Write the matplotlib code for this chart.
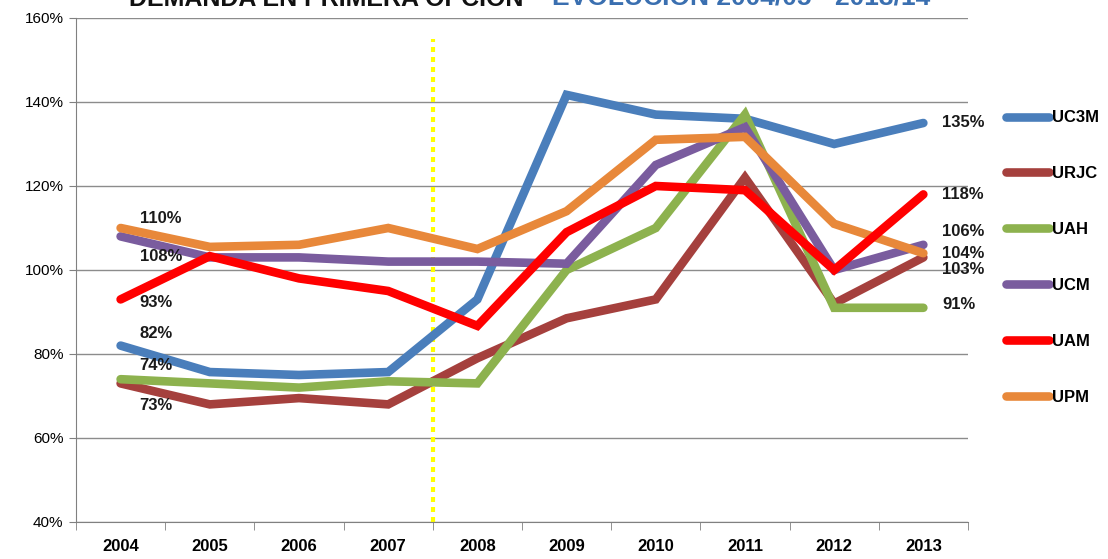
import matplotlib
matplotlib.use("Agg")
import matplotlib.pyplot as plt
from matplotlib.ticker import FixedLocator

# Data (percent)
years = ["2004", "2005", "2006", "2007", "2008", "2009", "2010", "2011", "2012", "2013"]
series_names = ["UC3M", "URJC", "UAH", "UCM", "UPM", "UAM"]
uc3m = [82, 75.7, 75, 75.7, 93, 141.7, 137, 136, 130, 135]
urjc = [73, 68, 69.5, 68, 79, 88.5, 93, 122, 92, 103]
uah = [74, 73, 72, 73.5, 73, 100, 110, 137, 91, 91]
ucm = [108, 103, 103, 102, 102, 101.5, 125, 134, 100, 106]
upm = [110, 105.5, 106, 110, 105, 114, 131, 131.7, 111, 104]
uam = [93, 103.3, 98, 95, 86.7, 109, 120, 119, 100, 118]
legend_order = ["UC3M", "URJC", "UAH", "UCM", "UAM", "UPM"]

colors = {"UC3M": "#4A7EBB", "URJC": "#A5403D", "UAH": "#8DB24E",
          "UCM": "#7A5C9E", "UAM": "#FF0000", "UPM": "#E8883A"}
values = {"UC3M": uc3m, "URJC": urjc, "UAH": uah, "UCM": ucm, "UPM": upm, "UAM": uam}

# labels at first and last point: (series, dy) in pixels
left_labels = [("UPM", 9), ("UCM", -20), ("UAM", -3), ("UC3M", 12), ("UAH", 14), ("URJC", -22)]
right_labels = [("UC3M", 0), ("UAM", 0), ("UCM", 13), ("UPM", 0), ("URJC", -12), ("UAH", 3)]

font = ["Liberation Sans", "DejaVu Sans"]
plt.rcParams["font.family"] = font

fig = plt.figure(figsize=(11.08, 5.59), dpi=100)
ax = fig.add_axes([0.0686, 0.0662, 0.805, 0.9016])

x = list(range(len(years)))
lines = {}
for name in series_names:
    ln, = ax.plot(x, values[name], color=colors[name], lw=6.2,
                  solid_joinstyle="miter", solid_capstyle="round", label=name, zorder=3)
    lines[name] = ln

# yellow dotted separator between 2007 and 2008
ax.plot([3.5, 3.5], [40, 155], color="#FFFF00", lw=3, ls=(0, (1.2, 1.2)), zorder=2)

for name, dy in left_labels:
    v = values[name][0]
    ax.annotate("%d%%" % round(v), (0, v), xytext=(19, dy), textcoords="offset pixels",
                va="center", ha="left", fontsize=12, fontweight="bold", color="#1a1a1a")
for name, dy in right_labels:
    v = values[name][-1]
    ax.annotate("%d%%" % round(v), (9, v), xytext=(19, dy), textcoords="offset pixels",
                va="center", ha="left", fontsize=12, fontweight="bold", color="#1a1a1a",
                annotation_clip=False)

ax.set_xlim(-0.5, 9.5)
ax.set_ylim(40, 160)
ax.set_yticks(range(40, 161, 20))
ax.set_yticklabels(["%d%%" % t for t in range(40, 161, 20)], fontsize=11)
ax.set_xticks(x)
ax.set_xticklabels(years, fontsize=12, fontweight="bold")
ax.xaxis.set_minor_locator(FixedLocator([i - 0.5 for i in range(len(years) + 1)]))
ax.tick_params(axis="x", which="major", length=0, pad=12)
ax.tick_params(axis="x", which="minor", length=6, color="#808080", direction="out")
ax.tick_params(axis="y", length=5, color="#808080", pad=4)
ax.grid(axis="y", color="#8c8c8c", lw=1)
ax.set_axisbelow(True)
for s in ["top", "right"]:
    ax.spines[s].set_visible(False)
for s in ["left", "bottom"]:
    ax.spines[s].set_color("#808080")

handles = [lines[n] for n in legend_order]
ax.legend(handles, legend_order, loc="upper left", bbox_to_anchor=(1.035, 0.83),
          frameon=False, handlelength=2.6, labelspacing=2.45, handletextpad=0.15,
          prop={"size": 12, "weight": "bold"}, borderaxespad=0)

fig.text(523 / 1108, 1 - 6 / 559, "DEMANDA EN PRIMERA OPCIÓN", ha="right", va="baseline",
         fontsize=18, fontweight="bold", color="#111111")
fig.text(552 / 1108, 1 - 6 / 559, "EVOLUCIÓN 2004/05 - 2013/14", ha="left", va="baseline",
         fontsize=19, fontweight="bold", color="#3A6FB0")

fig.savefig("out.png", dpi=100)
